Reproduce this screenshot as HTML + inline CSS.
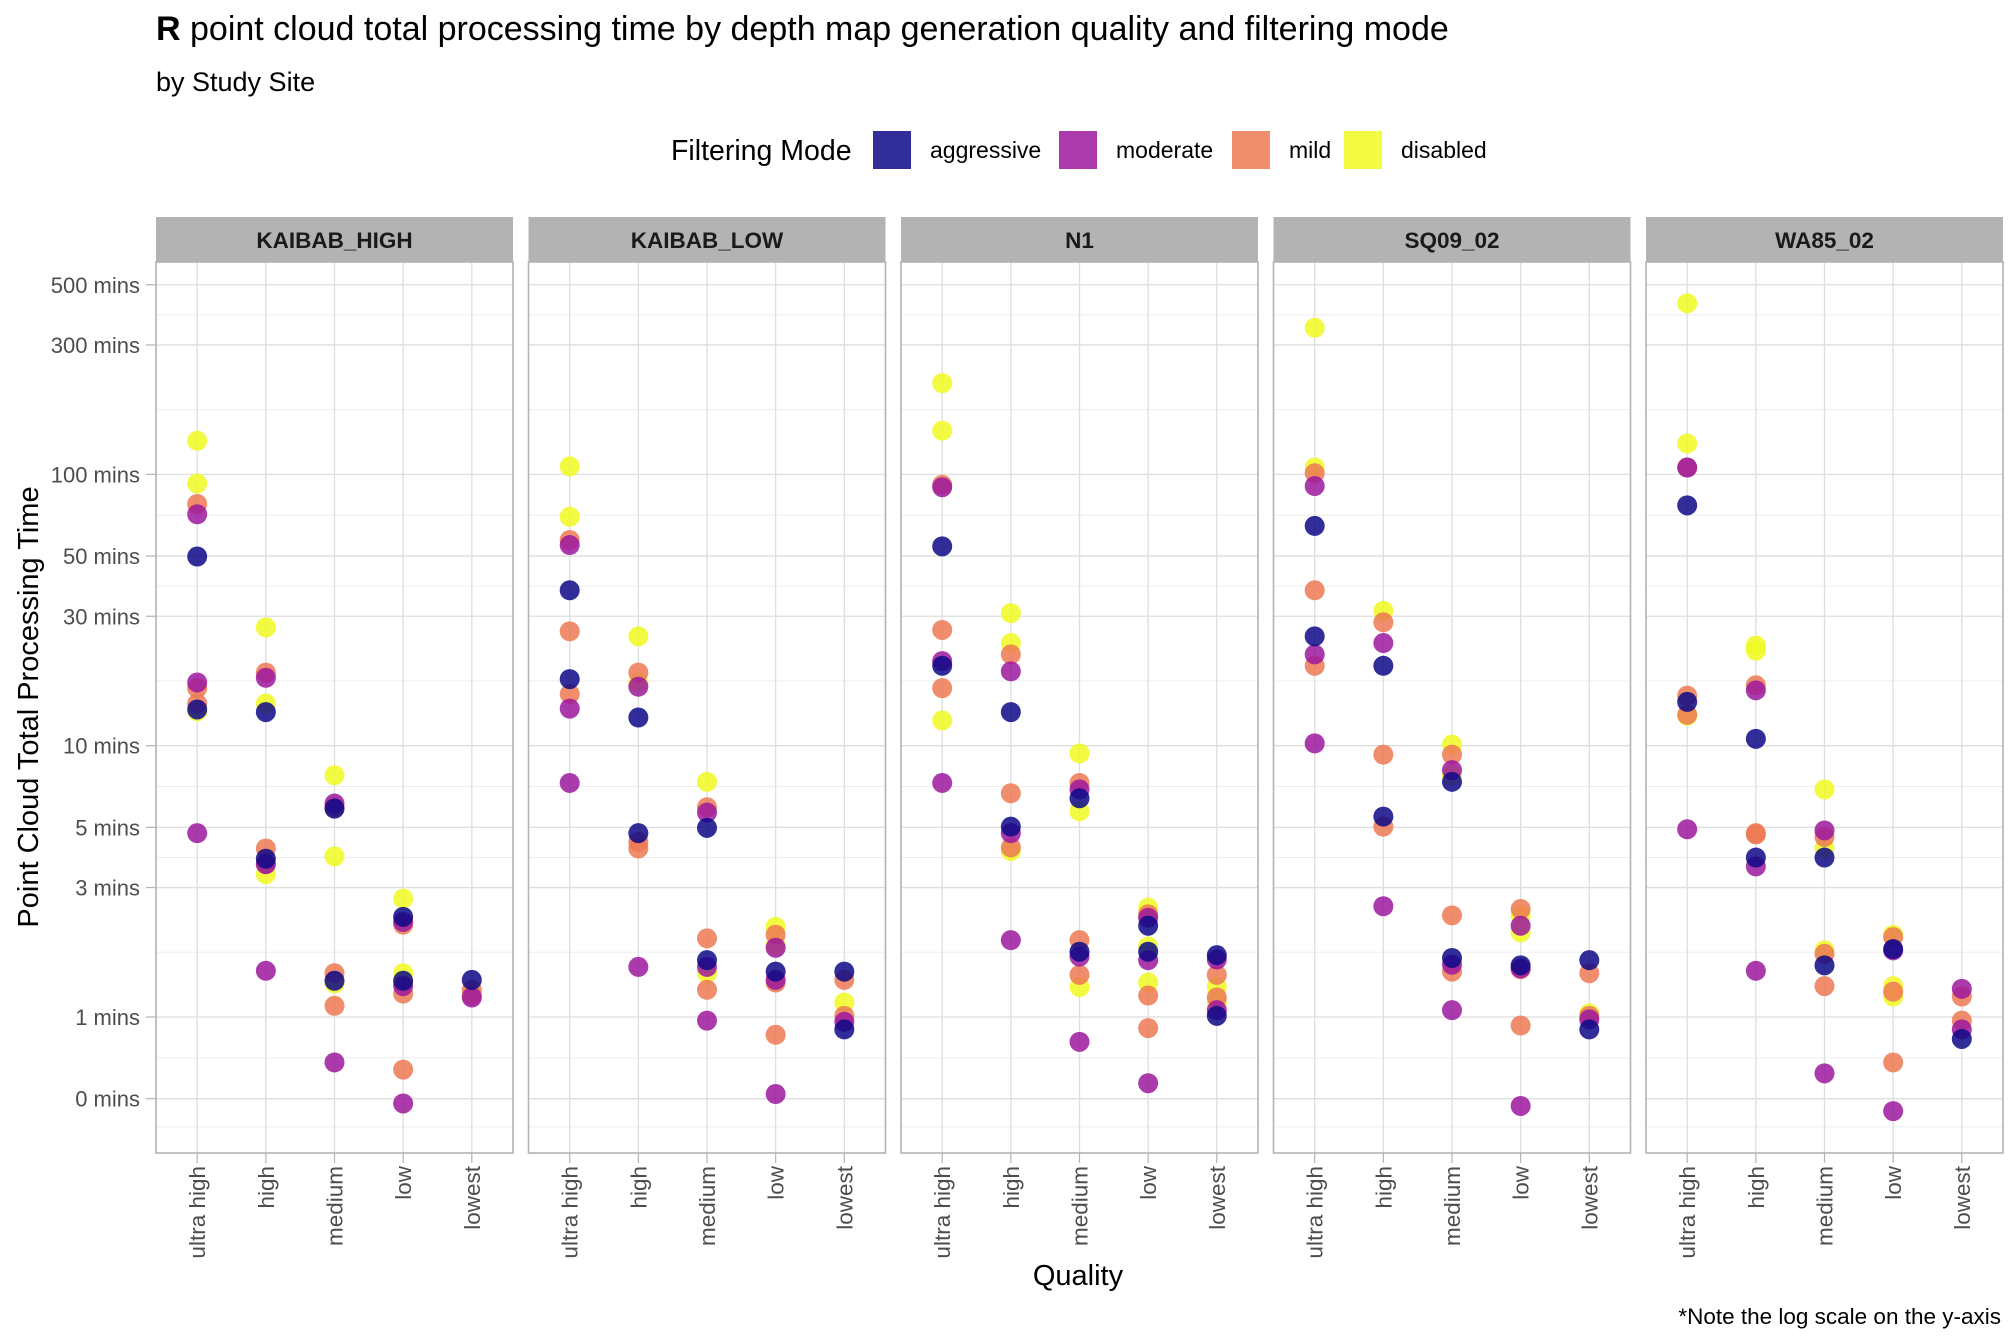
<!DOCTYPE html>
<html><head><meta charset="utf-8">
<style>
html,body{margin:0;padding:0;background:#fff;}
svg{display:block;font-family:"Liberation Sans",Arial,sans-serif;}
</style></head>
<body>
<svg id="chart" width="2016" height="1344" viewBox="0 0 2016 1344" xmlns="http://www.w3.org/2000/svg">
  <text x="156" y="40" font-size="34" fill="#000"><tspan font-weight="bold">R</tspan> point cloud total processing time by depth map generation quality and filtering mode</text>
  <text x="156" y="91" font-size="27" fill="#000">by Study Site</text>
  <g id="legend"></g>
  <g id="panels"></g>
  <text transform="translate(38,707) rotate(-90)" text-anchor="middle" font-size="29" fill="#000">Point Cloud Total Processing Time</text>
  <text x="1078" y="1285" text-anchor="middle" font-size="29" fill="#000">Quality</text>
  <text x="2001" y="1324" text-anchor="end" font-size="22.5" fill="#000">*Note the log scale on the y-axis</text>
</svg>
<script>
const sites = ["KAIBAB_HIGH","KAIBAB_LOW","N1","SQ09_02","WA85_02"];
const qualities = ["ultra high","high","medium","low","lowest"];
const modes = ["aggressive","moderate","mild","disabled"];
const yTickValues = [0.5,1,3,5,10,30,50,100,300,500];
const yTickLabels = ["0 mins","1 mins","3 mins","5 mins","10 mins","30 mins","50 mins","100 mins","300 mins","500 mins"];
// mode index per point, nested [site][quality]
const pointModes = [
  [[3,3,2,1,0,1,2,2,0,3,1],[3,2,1,3,0,2,0,1,2,3,1],[3,1,2,0,3,2,0,3,2,1],[3,0,1,2,3,0,3,1,2,2,1],[0,2,1,2]],
  [[3,3,2,1,0,2,0,2,1,1],[3,2,3,1,0,0,2,2,1],[3,2,1,0,2,0,1,3,2,1],[3,2,3,1,0,1,2,2,1],[0,2,3,2,1,0]],
  [[3,3,2,1,0,2,1,0,2,3,1],[3,3,2,1,0,2,0,1,2,3,1],[3,2,1,0,3,2,0,1,2,3,1],[3,2,1,0,3,0,1,3,2,2,1],[0,1,2,3,2,3,1,0]],
  [[3,3,2,1,0,2,0,1,2,1],[3,2,1,0,2,0,2,1],[3,2,1,3,0,2,0,1,2,1],[2,3,1,3,0,2,1,2,1],[0,2,3,2,1,0]],
  [[3,3,2,1,0,2,0,3,2,1],[3,3,2,1,0,2,2,0,1,1],[3,1,2,3,0,3,2,0,2,1],[3,2,0,1,3,3,2,2,1],[1,2,2,1,0]]
];
// processing time in minutes, nested [site][quality]
const pointValues = [
  [[133,92.6,77.8,71.3,49.8,17.1,16.3,14.3,13.6,13.4,4.76],[27.3,18.6,17.8,14.3,13.3,4.18,3.83,3.66,3.66,3.36,1.48],[7.78,6.12,5.93,5.86,3.91,1.45,1.36,1.33,1.10,0.68],[2.73,2.34,2.24,2.19,1.45,1.36,1.34,1.30,1.22,0.64,0.48],[1.37,1.26,1.18,1.20]],
  [[107,69.8,57.3,54.9,37.4,26.4,17.6,15.5,13.7,7.29],[25.3,18.6,17.1,16.5,12.7,4.76,4.42,4.18,1.53],[7.36,5.93,5.67,4.98,1.95,1.62,1.53,1.45,1.26,0.97],[2.15,2.01,1.84,1.80,1.47,1.37,1.34,0.86,0.52],[1.47,1.37,1.13,1.01,0.96,0.90]],
  [[217,145,91.6,89.7,54.3,26.7,20.5,19.7,16.3,12.4,7.29],[30.8,23.9,21.7,18.8,13.3,6.68,5.03,4.76,4.22,4.09,1.92],[9.37,7.29,6.90,6.40,5.73,1.92,1.74,1.67,1.43,1.29,0.81],[2.53,2.39,2.32,2.17,1.82,1.74,1.62,1.34,1.20,0.91,0.57],[1.69,1.63,1.43,1.29,1.18,1.13,1.06,1.01]],
  [[347,106,101,90.6,64.6,37.4,25.3,21.7,19.7,10.2],[31.4,28.5,23.9,19.7,9.27,5.48,5.03,2.56],[10.1,9.27,8.13,7.78,7.36,2.37,1.65,1.56,1.47,1.06],[2.50,2.37,2.17,2.05,1.55,1.50,1.51,0.93,0.47],[1.62,1.45,1.03,1.01,0.98,0.90]],
  [[427,130,106,106,76.9,15.3,14.5,12.9,13.0,4.92],[23.4,22.4,16.7,16.0,10.6,4.76,4.71,3.87,3.59,1.48],[6.90,4.87,4.61,4.18,3.87,1.76,1.71,1.55,1.30,0.62],[2.01,1.97,1.78,1.76,1.30,1.19,1.24,0.68,0.45],[1.27,1.19,0.97,0.90,0.83]]
];

const NS = "http://www.w3.org/2000/svg";
const modeColors = ["#0D0887","#9C179E","#ED7953","#F0F921"];
const panelLeft0 = 156, panelW = 357, panelGap = 15.5, panelTop = 262, panelBottom = 1153, stripTop = 217;
function yScale(v){ return 1017 - 271.3*Math.log10(v); }
function panelX(i){ return panelLeft0 + i*(panelW+panelGap); }
function xScale(i, q){ return panelX(i) + (q+0.6)/5.2*panelW; }
function mk(tag, attrs, parent){
  const e = document.createElementNS(NS, tag);
  for (const k in attrs) e.setAttribute(k, attrs[k]);
  parent.appendChild(e); return e;
}
const svg = document.getElementById("chart");
const panels = document.getElementById("panels");

yTickValues.forEach((v,k)=>{
  const y = yScale(v);
  const t = mk("text",{x:140,y:y+8,"text-anchor":"end","font-size":22,fill:"#4D4D4D"},svg);
  t.textContent = yTickLabels[k];
  
  
  const l = mk("line",{x1:146,x2:156,y1:y,y2:y,stroke:"#B3B3B3","stroke-width":1.2},svg);
  
  
});
const minorVals = [0.5/1.27];
for (let k=0;k<yTickValues.length-1;k++) minorVals.push(Math.sqrt(yTickValues[k]*yTickValues[k+1]));

sites.forEach((s,i)=>{
  const g = mk("g",{},panels);
  
  
  const x0 = panelX(i);
  const strip = mk("rect",{x:x0,y:stripTop,width:panelW,height:panelTop-stripTop,fill:"#B3B3B3"},g);
  
  
  const st = mk("text",{x:x0+panelW/2,y:248,"text-anchor":"middle","font-size":22.5,"font-weight":"bold",fill:"#1A1A1A"},g);
  st.textContent = s;
  
  
  minorVals.forEach(v=>{
    const y = yScale(v);
    const l = mk("line",{x1:x0,x2:x0+panelW,y1:y,y2:y,stroke:"#EDEDED","stroke-width":1},g);
    
    
  });
  yTickValues.forEach(v=>{
    const y = yScale(v);
    const l = mk("line",{x1:x0,x2:x0+panelW,y1:y,y2:y,stroke:"#DEDEDE","stroke-width":1.3},g);
    
    
  });
  qualities.forEach((q,j)=>{
    const x = xScale(i,j);
    const l = mk("line",{x1:x,x2:x,y1:panelTop,y2:panelBottom,stroke:"#DEDEDE","stroke-width":1.3},g);
    
    
    const tk = mk("line",{x1:x,x2:x,y1:panelBottom,y2:panelBottom+10,stroke:"#B3B3B3","stroke-width":1.2},g);
    
    
    const t = mk("text",{transform:`translate(${x+8},1166) rotate(-90)`,"text-anchor":"end","font-size":22.5,fill:"#4D4D4D"},g);
    t.textContent = q;
    
    
  });
  for (let m=3;m>=0;m--){
    qualities.forEach((q,j)=>{
      const ms = pointModes[i][j], vs = pointValues[i][j];
      for (let p=0;p<vs.length;p++){
        if (ms[p]!==m) continue;
        const c = mk("circle",{cx:xScale(i,j),cy:yScale(vs[p]),r:10,fill:modeColors[m],"fill-opacity":0.85},g);
        
        
      }
    });
  }
  const border = mk("rect",{x:x0,y:panelTop,width:panelW,height:panelBottom-panelTop,fill:"none",stroke:"#B3B3B3","stroke-width":1.6},g);
  
  
});

const leg = document.getElementById("legend");
const lt = mk("text",{x:671,y:160,"font-size":28.5,fill:"#000"},leg);
lt.textContent = "Filtering Mode";


const keyX = [873,1059,1232,1344];
modes.forEach((m,k)=>{
  const r = mk("rect",{x:keyX[k],y:131,width:38,height:38,fill:modeColors[k],"fill-opacity":0.85},leg);
  
  
  const t = mk("text",{x:keyX[k]+57,y:158,"font-size":23,fill:"#000"},leg);
  t.textContent = m;
  
  
});
</script>
</body></html>
